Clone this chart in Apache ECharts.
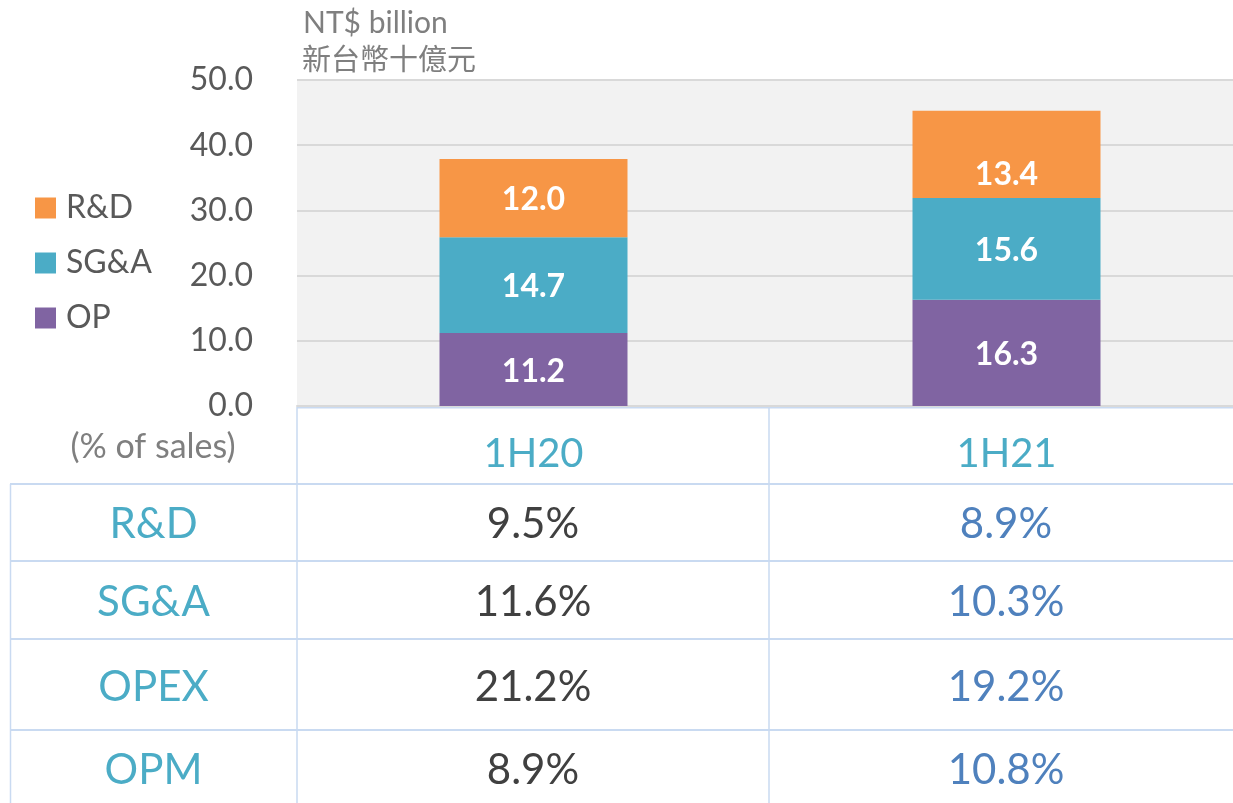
<!DOCTYPE html>
<html>
<head>
<meta charset="utf-8">
<script src="https://cdn.jsdelivr.net/npm/echarts@6/dist/echarts.min.js"></script>
<style>
    html, body { margin: 0; padding: 0; background: #fff; overflow: hidden; }
    #container { width: 1245px; height: 803px; }
</style>
</head>
<body>
<div id="container"></div>
<script>
// 数据
var categories = ['1H20', '1H21'];
var opValues = [11.2, 16.3];
var sgaValues = [14.7, 15.6];
var rdValues = [12.0, 13.4];
var ratioRows = ['R&D', 'SG&A', 'OPEX', 'OPM'];
var ratio1H20 = ['9.5%', '11.6%', '21.2%', '8.9%'];
var ratio1H21 = ['8.9%', '10.3%', '19.2%', '10.8%'];

var fontName = 'Lato, "Noto Sans", sans-serif';
var cjkFont = '"Noto Sans CJK TC", "Noto Sans CJK SC", sans-serif';

// 表格布局
var lineColor = '#c9daf1';
var rowLines = [484, 561, 639, 730];
var rowCenters = [524, 602, 687, 770];
var colX = [10, 297, 769, 1245];

function barLabel() {
    return {
        show: true,
        position: 'inside',
        offset: [0, 2],
        color: '#fff',
        fontWeight: 'bold',
        fontSize: 32,
        fontFamily: fontName,
        formatter: function (p) {
            return Number(p.value).toFixed(1);
        }
    };
}

// R&D 第二个标签在 Excel 里偏下
function rdData() {
    var out = [];
    for (var i = 0; i < rdValues.length; i++) {
        var item = { value: rdValues[i] };
        if (i == 1) {
            item.label = {
                show: true, position: 'inside', offset: [0, 20], color: '#fff',
                fontWeight: 'bold', fontSize: 32, fontFamily: fontName
            };
        }
        out.push(item);
    }
    return out;
}

function textEl(x, y, text, color, size, family, align) {
    return {
        type: 'text', x: x, y: y,
        style: {
            text: text, fill: color, fontSize: size, fontFamily: family || fontName,
            textAlign: align || 'center', textVerticalAlign: 'middle',
            align: align || 'center', verticalAlign: 'middle'
        }
    };
}

function getGraphic() {
    var els = [];
    // 表格线
    els.push({ type: 'line', shape: { x1: colX[1], y1: 407.5, x2: colX[3], y2: 407.5 }, style: { stroke: lineColor, lineWidth: 2 } });
    for (var i = 0; i < rowLines.length; i++) {
        els.push({ type: 'line', shape: { x1: colX[0], y1: rowLines[i], x2: colX[3], y2: rowLines[i] }, style: { stroke: lineColor, lineWidth: 2 } });
    }
    els.push({ type: 'line', shape: { x1: colX[0] + 0.5, y1: rowLines[0], x2: colX[0] + 0.5, y2: 803 }, style: { stroke: lineColor, lineWidth: 1.5 } });
    els.push({ type: 'line', shape: { x1: colX[1], y1: 407, x2: colX[1], y2: 803 }, style: { stroke: lineColor, lineWidth: 1.5 } });
    els.push({ type: 'line', shape: { x1: colX[2], y1: 407, x2: colX[2], y2: 803 }, style: { stroke: lineColor, lineWidth: 1.5 } });

    var c0 = (colX[0] + colX[1]) / 2,
        c1 = (colX[1] + colX[2]) / 2,
        c2 = 1006;
    for (var j = 0; j < ratioRows.length; j++) {
        els.push(textEl(c0, rowCenters[j], ratioRows[j], '#4bacc6', 42));
        els.push(textEl(c1, rowCenters[j], ratio1H20[j], '#404040', 42));
        els.push(textEl(c2, rowCenters[j], ratio1H21[j], '#4f81bd', 42));
    }
    // 单位 & 表头
    els.push(textEl(303, 23, 'NT$ billion', '#7f7f7f', 30, fontName, 'left'));
    els.push(textEl(302, 59, '新台幣十億元', '#7f7f7f', 29, cjkFont, 'left'));
    els.push(textEl(153, 447, '(% of sales)', '#7f7f7f', 34));
    return els;
}

var option = {
    animation: false,
    backgroundColor: '#fff',
    legend: {
        orient: 'vertical',
        left: 35,
        top: 192,
        padding: 0,
        itemWidth: 21,
        itemHeight: 21,
        itemGap: 23,
        icon: 'rect',
        data: ['R&D', 'SG&A', 'OP'],
        textStyle: {
            color: '#595959',
            fontSize: 32,
            fontFamily: fontName,
            padding: [0, 0, 0, 5]
        }
    },
    grid: {
        show: true,
        left: 297,
        top: 80,
        width: 946,
        height: 326,
        backgroundColor: '#f2f2f2',
        borderWidth: 0
    },
    xAxis: {
        type: 'category',
        data: categories,
        axisLine: { show: true, lineStyle: { color: '#d9d9d9', width: 2 } },
        axisTick: { show: false },
        axisLabel: {
            margin: 48,
            verticalAlign: 'middle',
            color: '#4bacc6',
            fontSize: 40,
            fontFamily: fontName
        }
    },
    yAxis: {
        type: 'value',
        min: 0,
        max: 50,
        interval: 10,
        axisLine: { show: false },
        axisTick: { show: false },
        splitLine: { show: true, lineStyle: { color: '#d9d9d9', width: 2 } },
        axisLabel: {
            margin: 44,
            color: '#595959',
            fontSize: 32,
            fontFamily: fontName,
            formatter: function (v) {
                return v.toFixed(1);
            }
        }
    },
    series: [{
        name: 'OP',
        type: 'bar',
        stack: 'total',
        barWidth: 188,
        data: opValues,
        itemStyle: { color: '#8064a2' },
        label: barLabel()
    }, {
        name: 'SG&A',
        type: 'bar',
        stack: 'total',
        barWidth: 188,
        data: sgaValues,
        itemStyle: { color: '#4bacc6' },
        label: barLabel()
    }, {
        name: 'R&D',
        type: 'bar',
        stack: 'total',
        barWidth: 188,
        data: rdData(),
        itemStyle: { color: '#f79646' },
        label: barLabel()
    }],
    graphic: getGraphic()
};

var container = echarts.init(document.getElementById('container'));
container.setOption(option);
</script>
</body>
</html>
